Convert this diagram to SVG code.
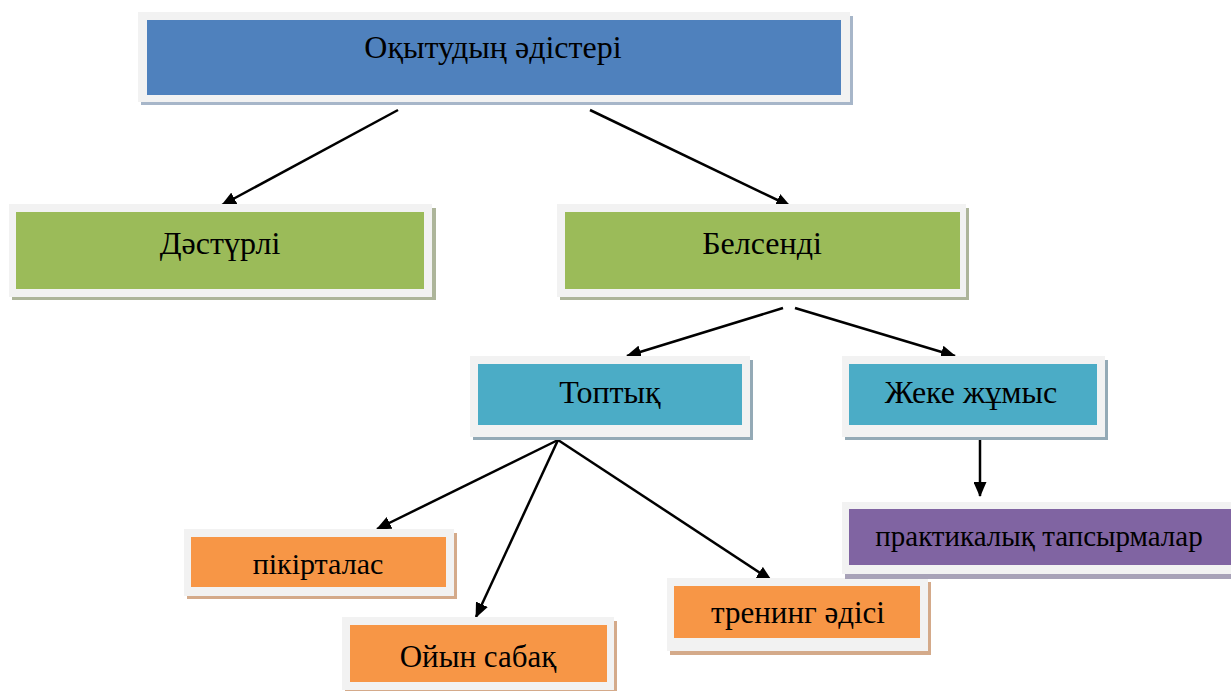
<svg xmlns="http://www.w3.org/2000/svg" width="1231" height="691" viewBox="0 0 1231 691">
<defs>
<style>
.frame{fill:#f2f2f2}
.t{font-family:"Liberation Serif","Times New Roman",serif;fill:#000;text-anchor:middle}
.c{stroke:#000;stroke-width:2.5;fill:none;marker-end:url(#ah)}
</style>
<marker id="ah" viewBox="0 0 15 13" refX="14" refY="6.5" markerWidth="15" markerHeight="13" markerUnits="userSpaceOnUse" orient="auto">
<path d="M0,0 L15,6.5 L0,13 Z" fill="#000"/>
</marker>
</defs>
<rect width="1231" height="691" fill="#fff"/>

<g id="connectors">
<line class="c" x1="398" y1="110" x2="222" y2="205"/>
<line class="c" x1="590" y1="110" x2="790" y2="206"/>
<line class="c" x1="783" y1="308" x2="627" y2="356"/>
<line class="c" x1="795" y1="308" x2="955" y2="356"/>
<line class="c" x1="980" y1="440" x2="980" y2="496"/>
<line class="c" x1="558" y1="440" x2="377" y2="529"/>
<line class="c" x1="558" y1="440" x2="476" y2="617"/>
<line class="c" x1="558" y1="440" x2="771" y2="580"/>
</g>

<g id="n-top">
<rect x="141" y="16" width="712" height="89" fill="#a7b6c9"/>
<rect class="frame" x="138" y="12" width="712" height="90"/>
<rect x="147" y="20" width="694" height="75" fill="#4f81bd"/>
<text class="t" x="493" y="58" font-size="32">Оқытудың әдістері</text>
</g>

<g id="n-dasturli">
<rect x="12" y="208" width="424" height="92" fill="#adb59a"/>
<rect class="frame" x="9" y="204" width="423" height="93"/>
<rect x="16" y="212" width="408" height="77" fill="#9bbb59"/>
<text class="t" x="220" y="254" font-size="32">Дәстүрлі</text>
</g>

<g id="n-belsendi">
<rect x="560" y="208" width="409" height="92" fill="#adb59a"/>
<rect class="frame" x="557" y="204" width="409" height="93"/>
<rect x="565" y="212" width="395" height="77" fill="#9bbb59"/>
<text class="t" x="762" y="254" font-size="32">Белсенді</text>
</g>

<g id="n-toptyk">
<rect x="473" y="360" width="280" height="80" fill="#94aab6"/>
<rect class="frame" x="470" y="356" width="280" height="81"/>
<rect x="478" y="364" width="264" height="61" fill="#4bacc6"/>
<text class="t" x="610" y="403" font-size="32">Топтық</text>
</g>

<g id="n-zheke">
<rect x="845" y="360" width="263" height="80" fill="#94aab6"/>
<rect class="frame" x="842" y="356" width="263" height="81"/>
<rect x="849" y="364" width="248" height="61" fill="#4bacc6"/>
<text class="t" x="971" y="403" font-size="32">Жеке жұмыс</text>
</g>

<g id="n-pikirtalas">
<rect x="187" y="533" width="270" height="66" fill="#d4aa8a"/>
<rect class="frame" x="184" y="529" width="270" height="67"/>
<rect x="191" y="537" width="255" height="50" fill="#f79646"/>
<text class="t" x="318" y="574" font-size="30">пікірталас</text>
</g>

<g id="n-oiyn">
<rect x="345" y="621" width="272" height="70" fill="#d4aa8a"/>
<rect class="frame" x="342" y="617" width="272" height="73"/>
<rect x="350" y="625" width="257" height="57" fill="#f79646"/>
<text class="t" x="478" y="667" font-size="31">Ойын сабақ</text>
</g>

<g id="n-trening">
<rect x="670" y="582" width="261" height="73" fill="#d4aa8a"/>
<rect class="frame" x="667" y="578" width="261" height="73"/>
<rect x="674" y="586" width="246" height="52" fill="#f79646"/>
<text class="t" x="798" y="623" font-size="31">тренинг әдісі</text>
</g>

<g id="n-praktika">
<rect x="845" y="506" width="386" height="73" fill="#a8a2b8"/>
<rect class="frame" x="842" y="502" width="389" height="72"/>
<rect x="849" y="509" width="382" height="56" fill="#8064a2"/>
<text class="t" x="1039" y="546" font-size="29">практикалық тапсырмалар</text>
</g>
</svg>
